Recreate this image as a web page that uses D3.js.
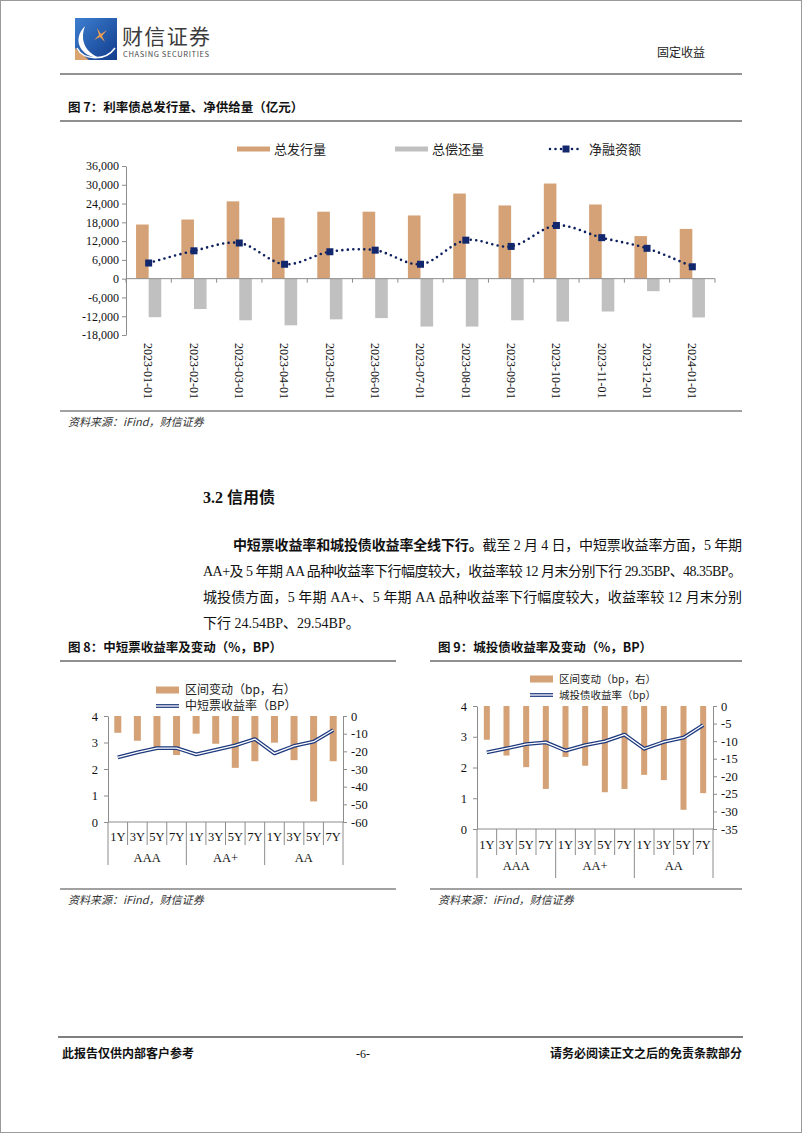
<!DOCTYPE html>
<html><head><meta charset="utf-8">
<script src="https://cdn.jsdelivr.net/npm/d3@7"></script>
<style>
html,body{margin:0;padding:0;background:#fff;}
svg text{font-family:"Liberation Serif","Noto Sans CJK SC",serif;}
.cjk{font-family:"Noto Sans CJK SC",sans-serif !important;}
</style></head>
<body>
<svg id="page" width="802" height="1133"></svg>
<script>
// ---------- Data ----------
const months = ["2023-01-01","2023-02-01","2023-03-01","2023-04-01","2023-05-01","2023-06-01","2023-07-01","2023-08-01","2023-09-01","2023-10-01","2023-11-01","2023-12-01","2024-01-01"];
const issuance = [17300,18900,24700,19500,21400,21400,20200,27200,23400,30400,23700,13600,15900];
const repayment = [-12300,-9700,-13300,-14900,-13000,-12600,-15300,-15300,-13300,-13700,-10500,-4000,-12400];
const netFinancing = [5000,8900,11400,4600,8600,9100,4600,12300,10300,17000,13100,9700,3800];
const ticks7 = [-18000,-12000,-6000,0,6000,12000,18000,24000,30000,36000];

const tenors = ["1Y","3Y","5Y","7Y","1Y","3Y","5Y","7Y","1Y","3Y","5Y","7Y"];
const ratings = ["AAA","AA+","AA"];
const mtnChange = [-9.5,-14.0,-19.3,-22.1,-10.0,-15.7,-29.35,-25.6,-15.1,-25.0,-48.35,-25.6];
const mtnYield = [2.44,2.63,2.79,2.79,2.55,2.72,2.89,3.13,2.59,2.87,3.03,3.47];
const ctChange = [-9.6,-14.1,-17.4,-23.6,-14.5,-17.0,-24.54,-23.6,-19.6,-21.1,-29.54,-24.8];
const ctYield = [2.49,2.62,2.76,2.82,2.55,2.73,2.85,3.07,2.61,2.83,2.97,3.38];
const leftTicks = [0,1,2,3,4];
const rightTicks8 = [0,-10,-20,-30,-40,-50,-60];
const rightTicks9 = [0,-5,-10,-15,-20,-25,-30,-35];

// ---------- Styles ----------
const C_ISS = "#d4a276", C_REP = "#c0c0c0", C_NET = "#0c1f5e", C_AX = "#8c8c8c";
const hy = s => s.replace(/\u2212/g,"-");
const fmtComma = d => hy(d3.format(",")(d));
const fmtInt = d => hy(d3.format("d")(d));
const svg = d3.select("#page");

// page frame
svg.append("rect").attr("x",0.5).attr("y",0.5).attr("width",801).attr("height",1132).attr("fill","none").attr("stroke","#9a9a9a");

// ---------- Header ----------
const defs = svg.append("defs");
const lg = defs.append("linearGradient").attr("id","lg").attr("x1","0").attr("y1","0").attr("x2","1").attr("y2","1");
lg.append("stop").attr("offset","0").attr("stop-color","#3d7fd0");
lg.append("stop").attr("offset","1").attr("stop-color","#123c8c");
const logo = svg.append("g").attr("transform","translate(75,18)");
logo.append("rect").attr("width",42).attr("height",42).attr("fill","url(#lg)");
logo.append("path").attr("d","M0,30 L0,42 L14,42 Z").attr("fill","#d9a46f");
logo.append("path").attr("d","M10,8 C-4,22 6,40 26,40 C12,36 4,24 10,8 Z").attr("fill","#fff");
logo.append("path").attr("d","M2,30 C8,42 30,44 40,30").attr("fill","none").attr("stroke","#fff").attr("stroke-width",1.5);
logo.append("path").attr("d","M22,10 L26,16 L32,12 L27,18 L30,24 L25,19 L19,22 L24,17 Z").attr("fill","#f0a050");
svg.append("text").attr("class","cjk").attr("x",122).attr("y",44).attr("font-size",21).attr("fill","#3c3c3c").attr("textLength",88).text("财信证券");
svg.append("text").attr("class","cjk").attr("x",123).attr("y",57).attr("font-size",7.5).attr("fill","#4a4a4a").attr("textLength",86).text("CHASING SECURITIES");
svg.append("text").attr("class","cjk").attr("x",705).attr("y",57).attr("text-anchor","end").attr("font-size",12).attr("fill","#222").text("固定收益");
svg.append("line").attr("x1",60).attr("x2",742).attr("y1",74).attr("y2",74).attr("stroke","#6e6e6e").attr("stroke-width",1.5);

function figTitle(x, y, x2, txt){
  svg.append("text").attr("class","cjk").attr("x",x).attr("y",y).attr("font-size",12.5).attr("font-weight","bold").attr("fill","#111").text(txt);
  svg.append("line").attr("x1",x-8).attr("x2",x2).attr("y1",y+9).attr("y2",y+9).attr("stroke","#222").attr("stroke-width",1.2);
}
function source(x, y, x2){
  svg.append("line").attr("x1",x-8).attr("x2",x2).attr("y1",y-11).attr("y2",y-11).attr("stroke","#444").attr("stroke-width",1.2);
  svg.append("text").attr("class","cjk").attr("x",x).attr("y",y+4).attr("font-size",11).attr("font-style","italic").attr("fill","#333").text("资料来源：iFind，财信证券");
}

// ---------- Figure 7 ----------
figTitle(68,112,742,"图 7：利率债总发行量、净供给量（亿元）");
{
  const x = d3.scaleBand().domain(months).range([126,715]);
  const y = d3.scaleLinear().domain([-18000,36000]).range([335,166]);
  const g = svg.append("g");
  const bw = 12.6;
  g.selectAll(".iss").data(months).join("rect")
    .attr("x",d=>x(d)+x.bandwidth()/2-bw).attr("width",bw)
    .attr("y",(d,i)=>y(issuance[i])).attr("height",(d,i)=>y(0)-y(issuance[i])).attr("fill",C_ISS);
  g.selectAll(".rep").data(months).join("rect")
    .attr("x",d=>x(d)+x.bandwidth()/2).attr("width",bw)
    .attr("y",y(0)).attr("height",(d,i)=>y(repayment[i])-y(0)).attr("fill",C_REP);
  // y axis
  const ya = g.append("g").attr("transform","translate(126,0)").call(d3.axisLeft(y).tickValues(ticks7).tickFormat(fmtComma).tickSize(4).tickSizeOuter(0));
  ya.select(".domain").attr("stroke",C_AX);
  ya.selectAll("line").attr("stroke",C_AX);
  ya.selectAll("text").attr("font-size",12).attr("fill","#111").attr("font-family","Liberation Serif");
  // x axis at 0
  g.append("line").attr("x1",126).attr("x2",715).attr("y1",y(0)).attr("y2",y(0)).attr("stroke",C_AX);
  const bounds = months.map(m=>x(m)).concat([715]);
  g.selectAll(".xt").data(bounds).join("line").attr("x1",d=>d).attr("x2",d=>d).attr("y1",y(0)).attr("y2",y(0)+4).attr("stroke",C_AX);
  g.selectAll(".xl").data(months).join("text")
    .attr("transform",d=>`translate(${x(d)+x.bandwidth()/2},343) rotate(90)`)
    .attr("dy","0.35em").attr("font-size",12).attr("fill","#111").attr("font-family","Liberation Serif").text(d=>d);
  // net line
  const line = d3.line().x((d,i)=>x(months[i])+x.bandwidth()/2).y(d=>y(d)).curve(d3.curveCatmullRom.alpha(0.5));
  g.append("path").attr("d",line(netFinancing)).attr("fill","none").attr("stroke",C_NET).attr("stroke-width",2.6)
    .attr("stroke-linecap","round").attr("stroke-dasharray","0,5.5");
  g.selectAll(".mk").data(netFinancing).join("rect")
    .attr("x",(d,i)=>x(months[i])+x.bandwidth()/2-3.5).attr("y",d=>y(d)-3.5).attr("width",7).attr("height",7).attr("fill","#13286c");
  // legend
  const lgd = svg.append("g");
  lgd.append("rect").attr("x",237).attr("y",146.5).attr("width",33).attr("height",5).attr("fill",C_ISS);
  lgd.append("text").attr("class","cjk").attr("x",274).attr("y",153.5).attr("font-size",13).attr("fill","#222").text("总发行量");
  lgd.append("rect").attr("x",395).attr("y",146.5).attr("width",33).attr("height",5).attr("fill",C_REP);
  lgd.append("text").attr("class","cjk").attr("x",432).attr("y",153.5).attr("font-size",13).attr("fill","#222").text("总偿还量");
  lgd.append("line").attr("x1",550).attr("x2",582).attr("y1",149).attr("y2",149).attr("stroke",C_NET).attr("stroke-width",2.6).attr("stroke-linecap","round").attr("stroke-dasharray","0,5.5");
  lgd.append("rect").attr("x",562.5).attr("y",145.5).attr("width",7).attr("height",7).attr("fill","#13286c");
  lgd.append("text").attr("class","cjk").attr("x",589).attr("y",153.5).attr("font-size",13).attr("fill","#222").text("净融资额");
}
source(68,422,742);

// ---------- Section text ----------
svg.append("text").attr("x",203).attr("y",503).attr("font-size",16).attr("font-weight","bold").attr("fill","#111")
  .call(t=>{t.append("tspan").text("3.2 ");t.append("tspan").attr("class","cjk").text("信用债");});
const pFont = 14;
const p1 = svg.append("text").attr("x",233).attr("y",550).attr("font-size",pFont).attr("fill","#111").attr("textLength",509).attr("lengthAdjust","spacing");
p1.append("tspan").attr("font-weight","bold").attr("class","cjk").text("中短票收益率和城投债收益率全线下行。");
p1.append("tspan").text("截至 2 月 4 日，中短票收益率方面，5 年期");
svg.append("text").attr("x",203).attr("y",576).attr("font-size",pFont).attr("fill","#111").attr("textLength",539).attr("lengthAdjust","spacing")
  .text("AA+及 5 年期 AA 品种收益率下行幅度较大，收益率较 12 月末分别下行 29.35BP、48.35BP。");
svg.append("text").attr("x",203).attr("y",602).attr("font-size",pFont).attr("fill","#111").attr("textLength",539).attr("lengthAdjust","spacing")
  .text("城投债方面，5 年期 AA+、5 年期 AA 品种收益率下行幅度较大，收益率较 12 月末分别");
svg.append("text").attr("x",203).attr("y",628).attr("font-size",pFont).attr("fill","#111")
  .text("下行 24.54BP、29.54BP。");

// ---------- Figures 8 & 9 ----------
function dualChart(o){
  const x = d3.scaleBand().domain(d3.range(12)).range([o.x0,o.x1]);
  const yl = d3.scaleLinear().domain([0,4]).range([o.yB,o.yT]);
  const yr = d3.scaleLinear().domain([o.rMin,0]).range([o.yB,o.yT]);
  const g = svg.append("g");
  g.selectAll(".b").data(o.change).join("rect")
    .attr("x",(d,i)=>x(i)+x.bandwidth()/2-o.bw/2).attr("width",o.bw)
    .attr("y",yr(0)).attr("height",d=>yr(d)-yr(0)).attr("fill",C_ISS);
  const la = g.append("g").attr("transform",`translate(${o.x0},0)`).call(d3.axisLeft(yl).tickValues(leftTicks).tickFormat(fmtInt).tickSize(4).tickSizeOuter(0));
  const ra = g.append("g").attr("transform",`translate(${o.x1},0)`).call(d3.axisRight(yr).tickValues(o.rTicks).tickFormat(fmtInt).tickSize(4).tickSizeOuter(0));
  [la,ra].forEach(a=>{a.select(".domain").attr("stroke",C_AX);a.selectAll("line").attr("stroke",C_AX);
    a.selectAll("text").attr("font-size",12.5).attr("fill","#111").attr("font-family","Liberation Serif");});
  la.selectAll("text").attr("x",-10);
  ra.selectAll("text").attr("x",8);
  // category axis
  g.append("line").attr("x1",o.x0).attr("x2",o.x1).attr("y1",o.yB).attr("y2",o.yB).attr("stroke",C_AX);
  const bds = d3.range(13).map(i=> i<12 ? x(i) : o.x1);
  g.selectAll(".dv").data(bds).join("line").attr("x1",d=>d).attr("x2",d=>d).attr("y1",o.yB)
    .attr("y2",(d,i)=> i%4===0 ? o.longY : o.shortY).attr("stroke",C_AX);
  g.selectAll(".tl").data(tenors).join("text").attr("x",(d,i)=>x(i)+x.bandwidth()/2).attr("y",o.tenorY)
    .attr("text-anchor","middle").attr("dy","0.35em").attr("font-size",12.5).attr("fill","#111").attr("font-family","Liberation Serif").text(d=>d);
  g.selectAll(".rl").data(ratings).join("text").attr("x",(d,i)=>(x(i*4)+ (i===2?o.x1:x(i*4+4)))/2).attr("y",o.ratingY)
    .attr("text-anchor","middle").attr("dy","0.35em").attr("font-size",12.5).attr("fill","#111").attr("font-family","Liberation Serif").text(d=>d);
  // double line
  const line = d3.line().x((d,i)=>x(i)+x.bandwidth()/2).y(d=>yl(d));
  g.append("path").attr("d",line(o.yield)).attr("fill","none").attr("stroke","#1e3a7e").attr("stroke-width",3.8).attr("stroke-linejoin","round");
  g.append("path").attr("d",line(o.yield)).attr("fill","none").attr("stroke","#fff").attr("stroke-width",1.3).attr("stroke-linejoin","round");
  // legend
  g.append("rect").attr("x",o.lx).attr("y",o.ly1-3.5).attr("width",23).attr("height",7).attr("fill",C_ISS);
  g.append("text").attr("class","cjk").attr("x",o.lx+29).attr("y",o.ly1).attr("dy","0.35em").attr("font-size",o.lf).attr("fill","#222").text("区间变动（bp，右）");
  g.append("line").attr("x1",o.lx).attr("x2",o.lx+23).attr("y1",o.ly2).attr("y2",o.ly2).attr("stroke","#1e3a7e").attr("stroke-width",3.8);
  g.append("line").attr("x1",o.lx).attr("x2",o.lx+23).attr("y1",o.ly2).attr("y2",o.ly2).attr("stroke","#fff").attr("stroke-width",1.3);
  g.append("text").attr("class","cjk").attr("x",o.lx+29).attr("y",o.ly2).attr("dy","0.35em").attr("font-size",o.lf).attr("fill","#222").text(o.lineName);
}
figTitle(68,652,396,"图 8：中短票收益率及变动（%，BP）");
figTitle(438,652,742,"图 9：城投债收益率及变动（%，BP）");
dualChart({x0:108,x1:343,yT:716,yB:822,rMin:-60,rTicks:rightTicks8,change:mtnChange,yield:mtnYield,bw:7,
  tenorY:837,ratingY:858,shortY:845,longY:865,lx:156,ly1:690,ly2:706,lf:12,lineName:"中短票收益率（BP）"});
dualChart({x0:477,x1:713,yT:706,yB:829,rMin:-35,rTicks:rightTicks9,change:ctChange,yield:ctYield,bw:6,
  tenorY:845,ratingY:866,shortY:855,longY:878,lx:530,ly1:679,ly2:695,lf:10.5,lineName:"城投债收益率（bp）"});
source(68,900,396);
source(438,900,742);

// ---------- Footer ----------
svg.append("line").attr("x1",58).attr("x2",743).attr("y1",1037).attr("y2",1037).attr("stroke","#555").attr("stroke-width",1.5);
svg.append("text").attr("class","cjk").attr("x",62).attr("y",1058).attr("font-size",12).attr("font-weight","bold").attr("fill","#111").text("此报告仅供内部客户参考");
svg.append("text").attr("x",363).attr("y",1058).attr("text-anchor","middle").attr("font-size",12).attr("fill","#111").text("-6-");
svg.append("text").attr("class","cjk").attr("x",742).attr("y",1058).attr("text-anchor","end").attr("font-size",12).attr("font-weight","bold").attr("fill","#111").text("请务必阅读正文之后的免责条款部分");
</script>
</body></html>
